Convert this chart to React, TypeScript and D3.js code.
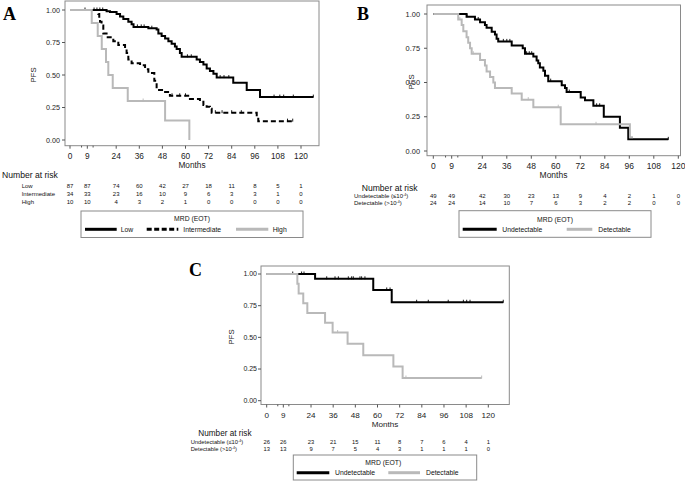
import React from "react";
import * as d3 from "d3";

// ---------- shared axis data ----------
const monthTicks = [0, 9, 24, 36, 48, 60, 72, 84, 96, 108, 120];
const minorMonthTicks = [6, 12];
const pfsTicks = [0, 0.25, 0.5, 0.75, 1];
const pfsTickLabels = ["0.00", "0.25", "0.50", "0.75", "1.00"];

// ---------- Panel A ----------
const aLowTimes = [19, 20.8, 24.2, 26, 27.7, 30.3, 32, 33, 40.7, 45, 45.9, 47.6, 49.4, 51.1, 52.8, 54.5, 55.4, 57.1, 58, 65.8, 67.5, 69.3, 71, 72.7, 74.5, 76.2, 84.8, 91.8, 98.7];
const aLowSurv = [0.99, 0.985, 0.97, 0.95, 0.93, 0.91, 0.89, 0.87, 0.86, 0.85, 0.82, 0.8, 0.78, 0.76, 0.74, 0.72, 0.7, 0.67, 0.64, 0.62, 0.6, 0.58, 0.55, 0.53, 0.51, 0.48, 0.44, 0.385, 0.33];
const aLowEnd = 126.4;
const aLowCensor = [7.8, 12.5, 14, 15.5, 17, 35, 37, 38.5, 42.5, 61, 63, 78, 80, 82.5, 106, 109, 111, 116, 126.4];

const aIntTimes = [14.7, 15.2, 15.6, 16.4, 17.3, 19, 22.5, 25.1, 28.6, 29.4, 30.3, 32, 36.4, 39, 40.7, 43.8, 45, 48.5, 51.9, 62.3, 67.5, 69.3, 71, 72.7, 73.6, 97, 97.8];
const aIntSurv = [0.97, 0.94, 0.91, 0.88, 0.82, 0.79, 0.76, 0.73, 0.7, 0.67, 0.62, 0.59, 0.575, 0.545, 0.515, 0.455, 0.385, 0.37, 0.34, 0.315, 0.295, 0.27, 0.255, 0.24, 0.21, 0.18, 0.145];
const aIntEnd = 115.7;
const aIntCensor = [53, 57, 60, 75.5, 79, 84, 89, 113, 115.7];

const aHighTimes = [11.3, 14.4, 16.5, 18.7, 19.9, 22.2, 30, 49.4, 62];
const aHighSurv = [0.9, 0.8, 0.7, 0.6, 0.5, 0.4, 0.3, 0.15, 0];
const aHighEnd = 62;
const aHighCensor = [38];

const aRiskLow = [87, 87, 74, 60, 42, 27, 18, 11, 8, 5, 1];
const aRiskInt = [34, 33, 23, 16, 10, 9, 6, 3, 3, 1, 0];
const aRiskHigh = [10, 10, 4, 3, 2, 1, 0, 0, 0, 0, 0];

// ---------- Panel B ----------
const bUndTimes = [16.3, 20.4, 22.9, 25.3, 26.1, 28.6, 30.2, 31, 31.8, 38.4, 43.8, 44.9, 49, 50.6, 51.4, 52.2, 53.9, 54.7, 56.3, 62.9, 64.5, 65.3, 72.2, 74.3, 78.4, 83.5, 91.4, 95.5];
const bUndSurv = [0.98, 0.96, 0.94, 0.92, 0.9, 0.87, 0.85, 0.82, 0.8, 0.77, 0.75, 0.71, 0.69, 0.66, 0.64, 0.61, 0.585, 0.55, 0.51, 0.48, 0.46, 0.43, 0.39, 0.37, 0.33, 0.25, 0.17, 0.085];
const bUndEnd = 115.1;
const bUndCensor = [16.5, 22, 34.3, 36, 37.5, 45.7, 47, 48.2, 57.5, 66.6, 80, 81.5, 115.1];

const bDetTimes = [12.2, 13.9, 14.7, 16.3, 17.1, 18, 18.8, 22.9, 25.3, 26.1, 27.8, 29.4, 30.2, 38.4, 43.3, 49, 62.4, 96.3];
const bDetSurv = [0.96, 0.92, 0.875, 0.83, 0.79, 0.75, 0.71, 0.665, 0.625, 0.58, 0.54, 0.5, 0.46, 0.42, 0.375, 0.32, 0.195, 0.1];
const bDetEnd = 97.8;
const bDetCensor = [13, 19.6, 46.5, 61.2, 79.7];

const bRiskUnd = [49, 49, 42, 30, 23, 13, 9, 4, 2, 1, 0];
const bRiskDet = [24, 24, 14, 10, 7, 6, 3, 2, 2, 0, 0];

// ---------- Panel C ----------
const cUndTimes = [26.2, 57.7, 67.7];
const cUndSurv = [0.962, 0.874, 0.777];
const cUndEnd = 128.1;
const cUndCensor = [14.1, 18.9, 20.2, 32.5, 37, 38.8, 44.2, 46, 46.9, 50.5, 51.4, 53.2, 65, 66.8, 81.2, 87.5, 98.3, 106.5, 108.3, 110.1, 128.1];

const cDetTimes = [16.6, 17.3, 19.8, 22, 31.6, 35.7, 43.8, 52.3, 68.6, 73.6];
const cDetSurv = [0.923, 0.846, 0.769, 0.692, 0.615, 0.538, 0.449, 0.359, 0.269, 0.179];
const cDetEnd = 116.4;
const cDetCensor = [38.4, 75.4, 116.4];

const cRiskUnd = [26, 26, 23, 21, 15, 11, 8, 7, 6, 4, 1];
const cRiskDet = [13, 13, 9, 7, 5, 4, 3, 1, 1, 1, 0];

// ---------- styles ----------
const GRAY = "#b9b9b9";
const SANS = "'Liberation Sans', Arial, sans-serif";
const SERIF = "'Liberation Serif', 'Times New Roman', serif";

type Curve = { times: number[]; surv: number[]; end: number; censor: number[]; color: string; dash?: string };

function survAt(c: Curve, t: number) {
  let s = 1;
  for (let i = 0; i < c.times.length; i++) if (c.times[i] <= t) s = c.surv[i];
  return s;
}

const supLabel = (base: string, sym: string) => (
  <>
    {base} ({sym}10<tspan dy={-2.2} fontSize={3.6}>-4</tspan>
    <tspan dy={2.2}>)</tspan>
  </>
);

function Panel({ cfg }: { cfg: any }) {
  const x = d3.scaleLinear().domain([0, 120]).range(cfg.xr);
  const y = d3.scaleLinear().domain([0, 1]).range(cfg.yr);
  const line = d3
    .line<[number, number]>()
    .x((d) => x(d[0]))
    .y((d) => y(d[1]))
    .curve(d3.curveStepAfter);
  const b = cfg.box;
  return (
    <g fontFamily={SANS}>
      <text x={cfg.letter.x} y={cfg.letter.y} fontFamily={SERIF} fontWeight="bold" fontSize={18}>
        {cfg.letter.t}
      </text>
      <rect x={b.x} y={b.y} width={b.w} height={b.h} fill="none" stroke="#8a8a8a" strokeWidth={1} />
      {pfsTicks.map((v, i) => (
        <g key={"y" + i}>
          <line x1={b.x - 3} x2={b.x} y1={y(v)} y2={y(v)} stroke="#555" />
          <text x={cfg.yLabelX} y={y(v)} dy="0.35em" textAnchor="end" fontSize={cfg.yFont} fill="#222">
            {pfsTickLabels[i]}
          </text>
        </g>
      ))}
      {monthTicks.map((m) => (
        <g key={"x" + m}>
          <line x1={x(m)} x2={x(m)} y1={b.y + b.h} y2={b.y + b.h + 3} stroke="#555" />
          <text x={x(m)} y={cfg.xLabelY} dy="0.35em" textAnchor="middle" fontSize={cfg.xFont} fill="#222">
            {m}
          </text>
        </g>
      ))}
      {minorMonthTicks.map((m) => (
        <line key={"mx" + m} x1={x(m)} x2={x(m)} y1={b.y + b.h} y2={b.y + b.h + 1.8} stroke="#555" />
      ))}
      <text x={cfg.months.x} y={cfg.months.y} dy="0.35em" textAnchor="middle" fontSize={cfg.xFont} fill="#222">
        Months
      </text>
      <text
        transform={`translate(${cfg.pfs.x},${cfg.pfs.y}) rotate(-90)`}
        dy="0.35em"
        textAnchor="middle"
        fontSize={7.8}
        fill="#222"
      >
        PFS
      </text>
      {cfg.curves.map((c: Curve, i: number) => {
        const pts: [number, number][] = [[0, 1]];
        c.times.forEach((t, j) => pts.push([t, c.surv[j]]));
        pts.push([c.end, c.surv[c.surv.length - 1]]);
        return (
          <g key={"c" + i}>
            <path d={line(pts) || ""} fill="none" stroke={c.color} strokeWidth={2} strokeDasharray={c.dash} />
            {c.censor.map((t, j) => (
              <line
                key={j}
                x1={x(t)}
                x2={x(t)}
                y1={y(survAt(c, t)) - 2.5}
                y2={y(survAt(c, t)) + 0.5}
                stroke={c.color}
                strokeWidth={0.9}
              />
            ))}
          </g>
        );
      })}
      <text x={cfg.risk.x} y={cfg.risk.y} dy="0.35em" fontSize={cfg.risk.font} fill="#111">
        Number at risk
      </text>
      {cfg.rows.map((r: any, i: number) => (
        <g key={"r" + i}>
          <text x={cfg.rowX} y={r.y} dy="0.35em" fontSize={cfg.rowFont} fill="#111">
            {r.label}
          </text>
          {r.values.map((v: number, j: number) => (
            <text key={j} x={x(monthTicks[j])} y={r.y} dy="0.35em" textAnchor="middle" fontSize={cfg.rowFont} fill="#111">
              {v}
            </text>
          ))}
        </g>
      ))}
      <rect
        x={cfg.legend.x}
        y={cfg.legend.y}
        width={cfg.legend.w}
        height={cfg.legend.h}
        fill="none"
        stroke="#8a8a8a"
        strokeWidth={1}
      />
      <text x={cfg.legend.tx} y={cfg.legend.ty} dy="0.35em" textAnchor="middle" fontSize={6.8} fill="#111">
        MRD (EOT)
      </text>
      {cfg.legend.items.map((it: any, i: number) => (
        <g key={"l" + i}>
          <line
            x1={it.x1}
            x2={it.x2}
            y1={cfg.legend.iy}
            y2={cfg.legend.iy}
            stroke={it.color}
            strokeWidth={3}
            strokeDasharray={it.dash}
          />
          <text x={it.lx} y={cfg.legend.iy} dy="0.35em" fontSize={6.8} fill="#111">
            {it.label}
          </text>
        </g>
      ))}
    </g>
  );
}

const panelA = {
  letter: { t: "A", x: 3, y: 20 },
  box: { x: 65, y: 1, w: 254, h: 144.7 },
  xr: [70, 301],
  yr: [140, 10],
  yLabelX: 60,
  yFont: 7.2,
  xLabelY: 156,
  xFont: 8.3,
  months: { x: 192, y: 165.5 },
  pfs: { x: 33, y: 75 },
  curves: [
    { times: aLowTimes, surv: aLowSurv, end: aLowEnd, censor: aLowCensor, color: "#000" },
    { times: aIntTimes, surv: aIntSurv, end: aIntEnd, censor: aIntCensor, color: "#000", dash: "5,3" },
    { times: aHighTimes, surv: aHighSurv, end: aHighEnd, censor: aHighCensor, color: GRAY },
  ],
  risk: { x: 2, y: 175, font: 8.6 },
  rowX: 21.7,
  rowFont: 6,
  rows: [
    { label: "Low", values: aRiskLow, y: 186 },
    { label: "Intermediate", values: aRiskInt, y: 194.3 },
    { label: "High", values: aRiskHigh, y: 202.3 },
  ],
  legend: {
    x: 81, y: 211, w: 222, h: 26.5, tx: 192, ty: 219, iy: 229.3,
    items: [
      { x1: 85, x2: 116.7, lx: 120.7, color: "#000", label: "Low" },
      { x1: 146.7, x2: 178.3, lx: 183.3, color: "#000", dash: "5,2.5", label: "Intermediate" },
      { x1: 236, x2: 268.3, lx: 272.7, color: GRAY, label: "High" },
    ],
  },
};

const panelB = {
  letter: { t: "B", x: 357, y: 20 },
  box: { x: 427, y: 5, w: 253.5, h: 150.7 },
  xr: [433.3, 678.3],
  yr: [151, 14],
  yLabelX: 420,
  yFont: 7.4,
  xLabelY: 166,
  xFont: 8.5,
  months: { x: 553.5, y: 175 },
  pfs: { x: 411.7, y: 82 },
  curves: [
    { times: bUndTimes, surv: bUndSurv, end: bUndEnd, censor: bUndCensor, color: "#000" },
    { times: bDetTimes, surv: bDetSurv, end: bDetEnd, censor: bDetCensor, color: GRAY },
  ],
  risk: { x: 361.7, y: 187.7, font: 8.6 },
  rowX: 354,
  rowFont: 6,
  rows: [
    { label: supLabel("Undetectable", "≤"), values: bRiskUnd, y: 196 },
    { label: supLabel("Detectable", ">"), values: bRiskDet, y: 202.7 },
  ],
  legend: {
    x: 459, y: 210.7, w: 192, h: 26.6, tx: 555, ty: 220, iy: 229.3,
    items: [
      { x1: 462.7, x2: 496.7, lx: 502.3, color: "#000", label: "Undetectable" },
      { x1: 566.7, x2: 592.3, lx: 598.3, color: GRAY, label: "Detectable" },
    ],
  },
};

const panelC = {
  letter: { t: "C", x: 189, y: 276 },
  box: { x: 261, y: 266, w: 248.3, h: 138.5 },
  xr: [266.7, 488.3],
  yr: [400.7, 274],
  yLabelX: 257,
  yFont: 7,
  xLabelY: 415,
  xFont: 8.1,
  months: { x: 385, y: 424 },
  pfs: { x: 231.7, y: 337 },
  curves: [
    { times: cUndTimes, surv: cUndSurv, end: cUndEnd, censor: cUndCensor, color: "#000" },
    { times: cDetTimes, surv: cDetSurv, end: cDetEnd, censor: cDetCensor, color: GRAY },
  ],
  risk: { x: 198.3, y: 433.3, font: 8.2 },
  rowX: 190.7,
  rowFont: 5.8,
  rows: [
    { label: supLabel("Undetectable", "≤"), values: cRiskUnd, y: 442.3 },
    { label: supLabel("Detectable", ">"), values: cRiskDet, y: 449 },
  ],
  legend: {
    x: 293.3, y: 455, w: 183.4, h: 25, tx: 383.3, ty: 462.3, iy: 472.7,
    items: [
      { x1: 296.7, x2: 329.3, lx: 335, color: "#000", label: "Undetectable" },
      { x1: 388.3, x2: 420, lx: 426, color: GRAY, label: "Detectable" },
    ],
  },
};

export default function App() {
  return (
    <svg
      width={685}
      height={482}
      viewBox="0 0 685 482"
      style={{ position: "absolute", left: 0, top: 0, background: "#fff" }}
    >
      <rect width={685} height={482} fill="#fff" />
      <Panel cfg={panelA} />
      <Panel cfg={panelB} />
      <Panel cfg={panelC} />
    </svg>
  );
}
